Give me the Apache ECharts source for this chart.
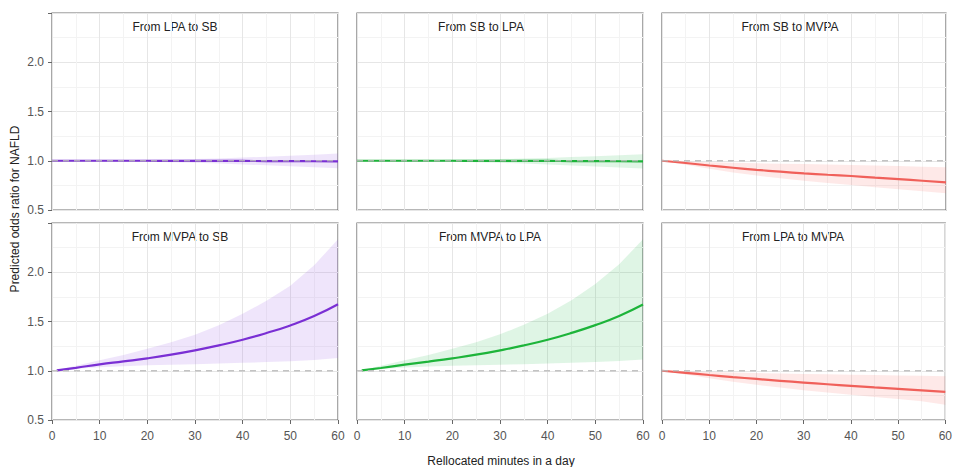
<!DOCTYPE html>
<html>
<head>
<meta charset="utf-8">
<script src="https://cdn.jsdelivr.net/npm/echarts@6/dist/echarts.min.js"></script>
<style>html,body{margin:0;padding:0;background:#fff}#chart{width:955px;height:467px}</style>
</head>
<body>
<div id="chart"></div>
<script>
// ---- data ----
var panelTitles = ['From LPA to SB', 'From SB to LPA', 'From SB to MVPA', 'From MVPA to SB', 'From MVPA to LPA', 'From LPA to MVPA'];
var xTicks = [0, 10, 20, 30, 40, 50, 60];
var yTicks = [0.5, 1.0, 1.5, 2.0];
var minutes = [0, 5, 10, 15, 20, 25, 30, 35, 40, 45, 50, 55, 60];
var minutesFrom1 = [1, 5, 10, 15, 20, 25, 30, 35, 40, 45, 50, 55, 60];

var lpaToSbOR    = [1.000, 1.000, 1.000, 1.000, 1.000, 0.999, 0.999, 0.998, 0.998, 0.997, 0.996, 0.995, 0.994];
var lpaToSbLow   = [1.000, 0.998, 0.996, 0.993, 0.990, 0.985, 0.980, 0.972, 0.963, 0.954, 0.944, 0.933, 0.923];
var lpaToSbHigh  = [1.000, 1.001, 1.003, 1.006, 1.009, 1.013, 1.018, 1.024, 1.032, 1.041, 1.050, 1.062, 1.074];

var sbToLpaOR    = [1.000, 1.000, 1.000, 1.000, 1.000, 0.999, 0.999, 0.998, 0.998, 0.997, 0.996, 0.995, 0.994];
var sbToLpaLow   = [1.000, 0.998, 0.996, 0.993, 0.990, 0.985, 0.979, 0.971, 0.962, 0.952, 0.942, 0.931, 0.921];
var sbToLpaHigh  = [1.000, 1.001, 1.003, 1.006, 1.009, 1.013, 1.017, 1.022, 1.029, 1.037, 1.046, 1.056, 1.066];

var sbToMvpaOR   = [1.000, 0.977, 0.952, 0.929, 0.908, 0.889, 0.872, 0.858, 0.845, 0.829, 0.814, 0.797, 0.780];
var sbToMvpaLow  = [1.000, 0.960, 0.918, 0.880, 0.850, 0.822, 0.797, 0.775, 0.754, 0.732, 0.710, 0.690, 0.669];
var sbToMvpaHigh = [1.000, 0.993, 0.986, 0.980, 0.974, 0.970, 0.966, 0.962, 0.958, 0.953, 0.947, 0.940, 0.933];

var mvpaToSbOR   = [1.003, 1.030, 1.065, 1.095, 1.126, 1.163, 1.207, 1.258, 1.315, 1.383, 1.460, 1.555, 1.675];
var mvpaToSbLow  = [1.000, 1.020, 1.035, 1.046, 1.055, 1.061, 1.066, 1.073, 1.080, 1.088, 1.096, 1.110, 1.130];
var mvpaToSbHigh = [1.005, 1.050, 1.106, 1.160, 1.224, 1.290, 1.366, 1.462, 1.578, 1.710, 1.864, 2.070, 2.335];

var mvpaToLpaOR   = [1.003, 1.028, 1.062, 1.093, 1.126, 1.163, 1.207, 1.257, 1.315, 1.384, 1.463, 1.556, 1.672];
var mvpaToLpaLow  = [1.000, 1.018, 1.032, 1.042, 1.050, 1.056, 1.061, 1.067, 1.074, 1.082, 1.090, 1.100, 1.113];
var mvpaToLpaHigh = [1.005, 1.050, 1.106, 1.160, 1.224, 1.290, 1.370, 1.466, 1.578, 1.715, 1.880, 2.080, 2.335];

var lpaToMvpaOR   = [1.000, 0.979, 0.957, 0.936, 0.917, 0.898, 0.880, 0.863, 0.847, 0.831, 0.816, 0.801, 0.786];
var lpaToMvpaLow  = [1.000, 0.962, 0.924, 0.888, 0.857, 0.829, 0.803, 0.779, 0.756, 0.734, 0.712, 0.690, 0.655];
var lpaToMvpaHigh = [1.000, 0.994, 0.988, 0.982, 0.977, 0.972, 0.968, 0.964, 0.960, 0.956, 0.952, 0.948, 0.944];

var xTitle = 'Rellocated minutes in a day';
var yTitle = 'Predicted odds ratio for NAFLD';
var refValue = 1.0;

// ---- build ----
var panels = [
  {x: minutes, or: lpaToSbOR, lo: lpaToSbLow, hi: lpaToSbHigh, c: '#7a2fd4', f: 'rgba(160,100,230,0.17)'},
  {x: minutes, or: sbToLpaOR, lo: sbToLpaLow, hi: sbToLpaHigh, c: '#1db43a', f: 'rgba(40,190,80,0.15)'},
  {x: minutes, or: sbToMvpaOR, lo: sbToMvpaLow, hi: sbToMvpaHigh, c: '#f0605a', f: 'rgba(245,110,100,0.15)'},
  {x: minutesFrom1, or: mvpaToSbOR, lo: mvpaToSbLow, hi: mvpaToSbHigh, c: '#7a2fd4', f: 'rgba(160,100,230,0.17)'},
  {x: minutesFrom1, or: mvpaToLpaOR, lo: mvpaToLpaLow, hi: mvpaToLpaHigh, c: '#1db43a', f: 'rgba(40,190,80,0.15)'},
  {x: minutes, or: lpaToMvpaOR, lo: lpaToMvpaLow, hi: lpaToMvpaHigh, c: '#f0605a', f: 'rgba(245,110,100,0.15)'}
];

var lefts = [52, 357, 662];
var widths = [286, 286, 284];
var tops = [13, 223];
var H = 197;
var titleX = [[175, 481, 790], [180, 490, 793]];

var grids = [], xAxes = [], yAxes = [], series = [], graphics = [];
function zip(xs, ys) { return xs.map(function (v, i) { return [v, ys[i]]; }); }

panels.forEach(function (p, i) {
  var row = Math.floor(i / 3), col = i % 3;
  grids.push({left: lefts[col], width: widths[col], top: tops[row], height: H,
    show: true, borderColor: '#707070', borderWidth: 1.2, backgroundColor: '#fff', containLabel: false});
  xAxes.push({type: 'value', gridIndex: i, min: 0, max: 60, interval: 10,
    axisLine: {show: false},
    axisTick: {show: row === 1, length: 4, lineStyle: {color: '#666'}},
    axisLabel: {show: row === 1, margin: 10, fontSize: 12, color: '#555', fontFamily: 'Liberation Sans',
      formatter: function (v) { return xTicks.indexOf(v) >= 0 ? String(v) : ''; }},
    splitLine: {show: true, lineStyle: {color: '#e6e6e6', width: 1}},
    minorTick: {show: true, splitNumber: 2, length: 0},
    minorSplitLine: {show: true, lineStyle: {color: '#f3f3f3', width: 1}}
  });
  yAxes.push({type: 'value', gridIndex: i, min: 0.5, max: 2.5, interval: 0.5,
    axisLine: {show: false},
    axisTick: {show: col === 0, length: 4, lineStyle: {color: '#666'}},
    axisLabel: {show: col === 0, margin: 8, fontSize: 12, color: '#555', fontFamily: 'Liberation Sans',
      formatter: function (v) { return yTicks.indexOf(v) >= 0 ? v.toFixed(1) : ''; }},
    splitLine: {show: true, lineStyle: {color: '#e6e6e6', width: 1}},
    minorTick: {show: true, splitNumber: 2, length: 0},
    minorSplitLine: {show: true, lineStyle: {color: '#f3f3f3', width: 1}}
  });
  // confidence band: polygon through upper values then lower values (reversed), via axis scales
  series.push({type: 'custom', xAxisIndex: i, yAxisIndex: i, silent: true, z: 2,
    data: p.x.map(function (xv, k) { return [xv, p.lo[k], p.hi[k]]; }),
    encode: {x: 0, y: [1, 2]},
    renderItem: (function (pp) {
      return function (params, api) {
        if (params.dataIndex !== 0) return null;
        var pts = [];
        for (var k = 0; k < pp.x.length; k++) pts.push(api.coord([pp.x[k], pp.hi[k]]));
        for (var k2 = pp.x.length - 1; k2 >= 0; k2--) pts.push(api.coord([pp.x[k2], pp.lo[k2]]));
        return {type: 'polygon', shape: {points: pts}, style: {fill: pp.f, stroke: null}};
      };
    })(p)
  });
  series.push({type: 'line', xAxisIndex: i, yAxisIndex: i, symbol: 'none', smooth: true, silent: true,
    lineStyle: {color: p.c, width: 2.2}, data: zip(p.x, p.or), z: 3});
  series.push({type: 'line', xAxisIndex: i, yAxisIndex: i, symbol: 'none', silent: true,
    lineStyle: {color: 'rgba(185,185,185,0.85)', width: 1.4, type: [6, 5]},
    data: [[0, refValue], [60, refValue]], z: 4});
  graphics.push({type: 'text', x: titleX[row][col], y: tops[row] + 13.5,
    style: {text: panelTitles[i], fontSize: 12, fill: '#222', fontFamily: 'Liberation Sans',
      textAlign: 'center', textVerticalAlign: 'middle'}});
});

graphics.push({type: 'text', x: 501, y: 461,
  style: {text: xTitle, fontSize: 12, fill: '#222', fontFamily: 'Liberation Sans', textAlign: 'center', textVerticalAlign: 'middle'}});
graphics.push({type: 'text', x: 15, y: 209, rotation: Math.PI / 2,
  style: {text: yTitle, fontSize: 12, fill: '#222', fontFamily: 'Liberation Sans', textAlign: 'center', textVerticalAlign: 'middle'}});

var chart = echarts.init(document.getElementById('chart'), null, {renderer: 'svg'});
chart.setOption({
  animation: false,
  backgroundColor: '#fff',
  grid: grids, xAxis: xAxes, yAxis: yAxes, series: series, graphic: graphics
});
</script>
</body>
</html>
